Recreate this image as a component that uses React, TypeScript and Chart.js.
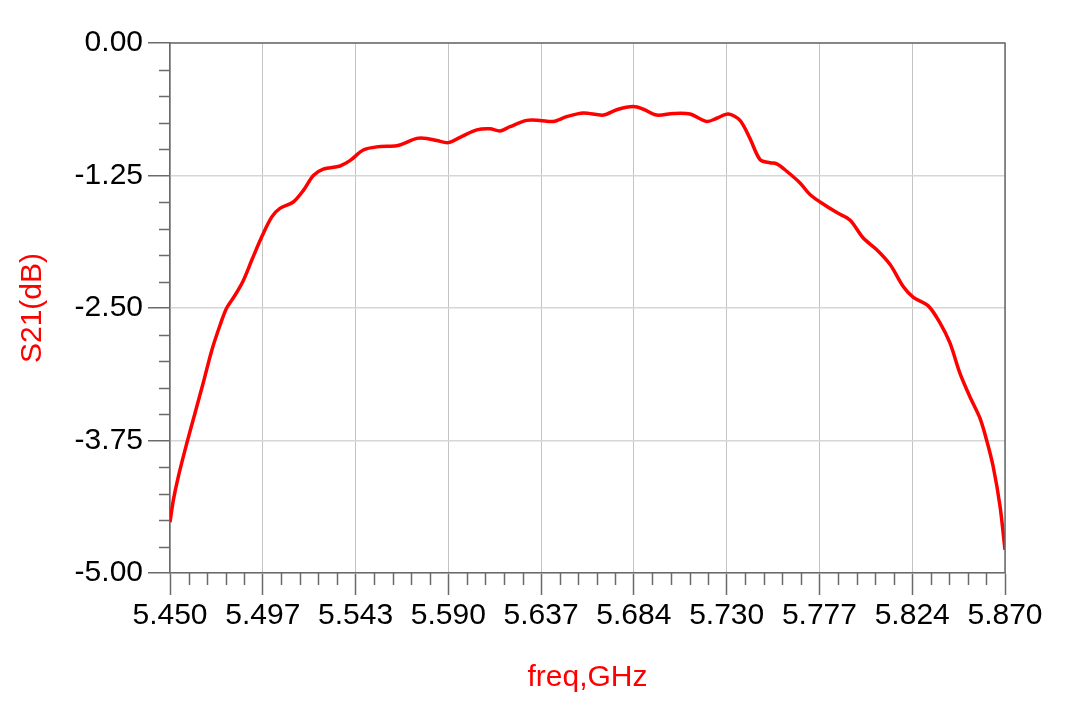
import React, { useEffect, useRef } from "react";
import { Chart, registerables } from "chart.js";

Chart.register(...registerables);

// frequency in GHz
const freqGHz = [
  5.45, 5.4517, 5.4542, 5.4584, 5.4626, 5.4668, 5.471, 5.4752, 5.4785, 5.4827,
  5.4869, 5.4911, 5.4961, 5.5012, 5.5053, 5.512, 5.5171, 5.5221, 5.5271, 5.5355,
  5.5405, 5.5472, 5.554, 5.564, 5.5674, 5.5741, 5.5791, 5.5842, 5.59, 5.5959,
  5.6043, 5.611, 5.616, 5.621, 5.6294, 5.6361, 5.6428, 5.6495, 5.6579, 5.668,
  5.6747, 5.683, 5.6881, 5.6948, 5.7032, 5.7116, 5.72, 5.725, 5.7308, 5.7367,
  5.7417, 5.7468, 5.7518, 5.7552, 5.7602, 5.7669, 5.7719, 5.777, 5.7854, 5.792,
  5.7987, 5.8055, 5.8122, 5.8189, 5.8239, 5.8314, 5.8373, 5.8423, 5.8474, 5.8524,
  5.8574, 5.8608, 5.8641, 5.8675, 5.87,
];

// S21 in dB
const s21dB = [
  -4.52, -4.31, -4.09, -3.78, -3.49, -3.2, -2.9, -2.66, -2.5, -2.38,
  -2.24, -2.05, -1.83, -1.64, -1.56, -1.5, -1.39, -1.25, -1.19, -1.16,
  -1.11, -1.01, -0.98, -0.97, -0.95, -0.9, -0.9, -0.92, -0.94, -0.89,
  -0.82, -0.81, -0.83, -0.79, -0.73, -0.73, -0.74, -0.695, -0.66, -0.68,
  -0.63, -0.6, -0.625, -0.68, -0.665, -0.67, -0.74, -0.71, -0.67, -0.73,
  -0.9, -1.1, -1.13, -1.14, -1.21, -1.32, -1.43, -1.5, -1.6, -1.67,
  -1.84, -1.95, -2.09, -2.3, -2.4, -2.48, -2.64, -2.83, -3.12, -3.34,
  -3.54, -3.75, -4.0, -4.37, -4.78,
];

const xTickLabels = [
  "5.450", "5.497", "5.543", "5.590", "5.637", "5.684", "5.730", "5.777", "5.824", "5.870",
];
const yTickLabels = ["0.00", "-1.25", "-2.50", "-3.75", "-5.00"];

const X_MIN = 5.45;
const X_MAX = 5.87;
const Y_MIN = -5;
const Y_MAX = 0;
const X_MINOR_PER_MAJOR = 5;
const Y_MINOR_PER_MAJOR = 5;

const FONT = '"Liberation Sans", Arial, sans-serif';
const AXIS_COLOR = "#6a6a6a";

const frameAndMinorTicks = {
  id: "frameAndMinorTicks",
  afterDraw(chart: any) {
    const { ctx, chartArea } = chart;
    const xs = chart.scales.x;
    const ys = chart.scales.y;
    ctx.save();
    ctx.strokeStyle = AXIS_COLOR;
    ctx.lineWidth = 1.5;
    const yMajorStep = (Y_MAX - Y_MIN) / (yTickLabels.length - 1);
    const yMinorStep = yMajorStep / Y_MINOR_PER_MAJOR;
    const nY = (yTickLabels.length - 1) * Y_MINOR_PER_MAJOR;
    ctx.beginPath();
    for (let i = 0; i <= nY; i++) {
      if (i % Y_MINOR_PER_MAJOR === 0) continue;
      const py = Math.round(ys.getPixelForValue(Y_MAX - i * yMinorStep)) + 0.5;
      ctx.moveTo(chartArea.left - 11, py);
      ctx.lineTo(chartArea.left, py);
    }
    const xMajorStep = (X_MAX - X_MIN) / (xTickLabels.length - 1);
    const xMinorStep = xMajorStep / X_MINOR_PER_MAJOR;
    const nX = (xTickLabels.length - 1) * X_MINOR_PER_MAJOR;
    for (let i = 0; i <= nX; i++) {
      if (i % X_MINOR_PER_MAJOR === 0) continue;
      const px = Math.round(xs.getPixelForValue(X_MIN + i * xMinorStep)) + 0.5;
      ctx.moveTo(px, chartArea.bottom);
      ctx.lineTo(px, chartArea.bottom + 12);
    }
    ctx.stroke();
    ctx.beginPath();
    ctx.moveTo(chartArea.left, chartArea.top);
    ctx.lineTo(chartArea.right, chartArea.top);
    ctx.lineTo(chartArea.right, chartArea.bottom);
    ctx.stroke();
    ctx.restore();
  },
};

export default function App() {
  const canvasRef = useRef<HTMLCanvasElement | null>(null);

  useEffect(() => {
    document.body.style.margin = "0";
    const canvas = canvasRef.current;
    if (!canvas) return;
    const points = freqGHz.map((f, i) => ({ x: f, y: s21dB[i] }));
    const xMajorStep = (X_MAX - X_MIN) / (xTickLabels.length - 1);
    const yMajorStep = (Y_MAX - Y_MIN) / (yTickLabels.length - 1);

    const chart = new Chart(canvas, {
      type: "line",
      data: {
        datasets: [
          {
            data: points,
            borderColor: "#ff0000",
            borderWidth: 3.5,
            pointRadius: 0,
            tension: 0.3,
            fill: false,
          },
        ],
      },
      options: {
        animation: false,
        responsive: false,
        devicePixelRatio: 1,
        layout: { padding: { top: 43, right: 75, left: 0, bottom: 0 } },
        plugins: {
          legend: { display: false },
          tooltip: { enabled: false },
        },
        scales: {
          x: {
            type: "linear",
            min: X_MIN,
            max: X_MAX,
            afterBuildTicks: (scale: any) => {
              scale.ticks = xTickLabels.map((_, i) => ({ value: X_MIN + i * xMajorStep }));
            },
            afterFit: (scale: any) => {
              scale.height = 134;
            },
            ticks: {
              autoSkip: false,
              maxRotation: 0,
              padding: 3,
              color: "#000",
              font: { family: FONT, size: 30 },
              callback: (_v: any, i: number) => xTickLabels[i],
            },
            grid: {
              color: "#c4c4c4",
              lineWidth: 1,
              drawTicks: true,
              tickLength: 22,
              tickColor: AXIS_COLOR,
              tickWidth: 1.5,
            },
            border: { display: true, color: AXIS_COLOR, width: 1.5 },
            title: {
              display: true,
              text: "freq,GHz",
              color: "#ff0000",
              font: { family: FONT, size: 30 },
              padding: { top: 0, bottom: 11 },
            },
          },
          y: {
            type: "linear",
            min: Y_MIN,
            max: Y_MAX,
            afterBuildTicks: (scale: any) => {
              scale.ticks = yTickLabels.map((_, i) => ({ value: Y_MAX - i * yMajorStep }));
            },
            afterFit: (scale: any) => {
              scale.width = 170;
            },
            ticks: {
              autoSkip: false,
              padding: 5,
              color: "#000",
              font: { family: FONT, size: 30 },
              callback: (_v: any, i: number) => yTickLabels[i],
            },
            grid: {
              color: "#d6d6d6",
              lineWidth: 1.5,
              drawTicks: true,
              tickLength: 22,
              tickColor: AXIS_COLOR,
              tickWidth: 1.5,
            },
            border: { display: true, color: AXIS_COLOR, width: 1.5 },
            title: {
              display: true,
              text: "S21(dB)",
              color: "#ff0000",
              font: { family: FONT, size: 30 },
              padding: { top: 15, bottom: 0 },
            },
          },
        },
      },
      plugins: [frameAndMinorTicks],
    });
    return () => chart.destroy();
  }, []);

  return (
    <div style={{ position: "absolute", left: 0, top: 0, width: 1080, height: 707, background: "#fff" }}>
      <canvas ref={canvasRef} width={1080} height={707} style={{ display: "block" }} />
    </div>
  );
}
